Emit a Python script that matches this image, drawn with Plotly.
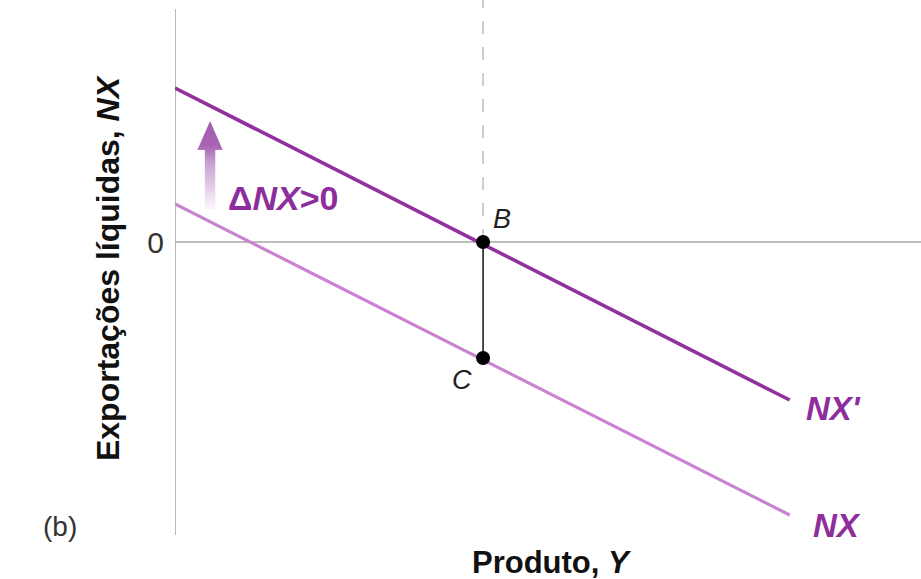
import plotly.graph_objects as go

# curves (output in x, net exports in y)
output = [0, 8.24]
nx_shifted = [1.54, -1.58]   # NX'
nx_orig = [0.38, -2.73]      # NX
y_eq = 4.13
point_names = ["B", "C"]
point_nx = [0.0, -1.16]

# shift arrow (drawn as a gradient filled polygon)
arrow_x = [0.40, 0.40, 0.30, 0.47, 0.64, 0.54, 0.54, 0.40]
arrow_y = [0.33, 0.92, 0.92, 1.21, 0.92, 0.92, 0.33, 0.33]

dark_purple = "#93309f"
light_purple = "#c983d1"
text_purple = "#8e2e9c"
font_fam = "Liberation Sans"

fig = go.Figure()

fig.add_trace(go.Scatter(
    x=arrow_x, y=arrow_y, mode="lines", fill="toself",
    line=dict(width=0, color="rgba(0,0,0,0)"),
    fillgradient=dict(type="vertical",
                      colorscale=[[0, "rgba(163,92,176,0.05)"],
                                  [0.5, "rgba(163,92,176,0.55)"],
                                  [0.72, "rgba(163,92,176,0.95)"],
                                  [1, "rgba(163,92,176,1)"]]),
    hoverinfo="skip"))

fig.add_trace(go.Scatter(x=output, y=nx_orig, mode="lines",
                         line=dict(color=light_purple, width=3.2)))
fig.add_trace(go.Scatter(x=output, y=nx_shifted, mode="lines",
                         line=dict(color=dark_purple, width=3.6)))

# B-C segment and points
fig.add_trace(go.Scatter(x=[y_eq, y_eq], y=point_nx, mode="lines",
                         line=dict(color="#222", width=1.6)))
fig.add_trace(go.Scatter(x=[y_eq, y_eq], y=point_nx, mode="markers",
                         marker=dict(color="black", size=14)))

# axes lines drawn as shapes
fig.add_shape(type="line", x0=0, x1=0, y0=-2.93, y1=2.33,
              line=dict(color="#a8a8a8", width=1.6), layer="below")
fig.add_shape(type="line", x0=0, x1=10, y0=0, y1=0,
              line=dict(color="#a8a8a8", width=1.6), layer="below")
fig.add_shape(type="line", x0=y_eq, x1=y_eq, y0=0, y1=2.42,
              line=dict(color="#c8c8c8", width=1.8, dash="13px,13px"),
              layer="below")

purple_font = dict(size=33, color=text_purple, family=font_fam)
dark_font = dict(size=27, color="#222", family=font_fam)

labels = [
    (0.69, 0.44, "<b>Δ<i>NX</i>>0</b>", "left",
     dict(size=34, color=text_purple, family=font_fam)),
    (4.23, 0.23, "<i>" + point_names[0] + "</i>", "left", dark_font),
    (4.01, -1.38, "<i>" + point_names[1] + "</i>", "right", dark_font),
    (8.43, -1.66, "<b><i>NX'</i></b>", "left", purple_font),
    (8.52, -2.83, "<b><i>NX</i></b>", "left", purple_font),
]
for x, y, txt, anchor, f in labels:
    fig.add_annotation(x=x, y=y, text=txt, xanchor=anchor, yanchor="middle",
                       showarrow=False, font=f)

fig.add_annotation(x=-0.154, y=0.015, xref="paper", yref="paper", text="(b)",
                   showarrow=False, xanchor="center", yanchor="middle",
                   font=dict(size=28, color="#333", family=font_fam))
fig.add_annotation(x=0.505, y=-0.052, xref="paper", yref="paper",
                   text="<b>Produto, <i>Y</i></b>", showarrow=False,
                   xanchor="center", yanchor="middle",
                   font=dict(size=31, color="#111", family=font_fam))
fig.add_annotation(x=-0.0898, y=0.499, xref="paper", yref="paper",
                   text="<b>Exportações líquidas, <i>NX</i></b>",
                   showarrow=False, textangle=-90,
                   xanchor="center", yanchor="middle",
                   font=dict(size=32, color="#111", family=font_fam))

fig.update_layout(
    width=921, height=579,
    margin=dict(l=175, r=0, t=0, b=44),
    paper_bgcolor="white", plot_bgcolor="white",
    showlegend=False,
    xaxis=dict(range=[0, 10], showgrid=False, zeroline=False,
               showline=False, showticklabels=False, fixedrange=True),
    yaxis=dict(range=[-2.93, 2.42], showgrid=False, zeroline=False,
               showline=False, tickvals=[0], ticktext=["0"],
               ticks="", ticklabelstandoff=10,
               tickfont=dict(size=30, color="#333", family=font_fam),
               fixedrange=True),
)

fig.write_html("out.html", config={"displayModeBar": False},
               post_script="document.body.style.margin='0px';")
